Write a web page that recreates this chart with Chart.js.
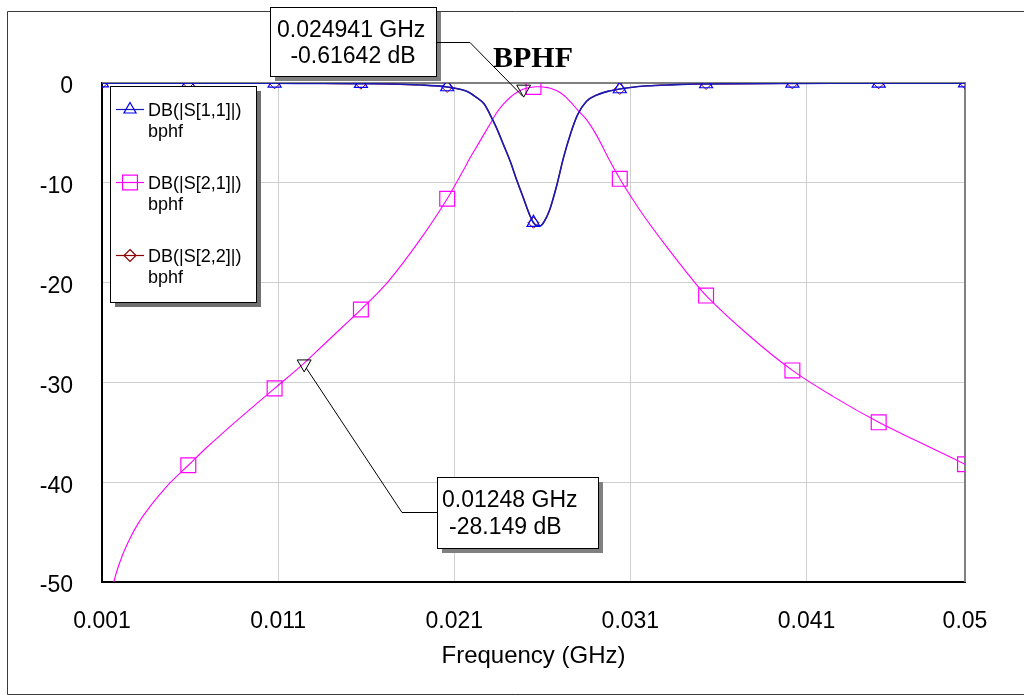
<!DOCTYPE html>
<html>
<head>
<meta charset="utf-8">
<script src="https://cdn.jsdelivr.net/npm/chart.js@4/dist/chart.umd.min.js"></script>
<style>
html,body{margin:0;padding:0;background:#fff;}
#wrap{width:1024px;height:696px;position:relative;}
</style>
</head>
<body>
<div id="wrap"><canvas id="c" width="1024" height="696"></canvas></div>
<script>
// ---- data ----
const freqGHz = [0.001,0.0013,0.0017,0.0021,0.0026,0.0031,0.0037,0.0043,0.0049,0.0059,0.0069,0.0079,0.0094,0.0108,
  0.0124,0.0136,0.0151,0.0157,0.0172,0.0191,0.0206,0.0215,0.0219,0.0223,
  0.0227,0.0231,0.0234,0.0238,0.0242,0.0245,0.0249,0.0253,0.0255,0.0257,0.0259,
  0.0261,0.0264,0.0268,0.0272,0.0276,0.0280,0.0285,0.0291,0.0298,0.0304,
  0.0310,0.0318,0.0331,0.0348,0.0353,0.0378,0.0402,0.0425,0.0451,0.0473,0.05];
const s11Db = [-0.01,-0.01,-0.01,-0.01,-0.01,-0.01,-0.01,-0.02,-0.02,-0.02,-0.02,-0.02,-0.03,-0.03,
  -0.04,-0.05,-0.06,-0.07,-0.1,-0.2,-0.4,-0.7,-1.0,-1.5,
  -2.1,-3.4,-4.5,-6.2,-7.95,-9.5,-11.4,-13.3,-14.0,-14.3,-14.3,
  -13.9,-12.8,-10.4,-7.5,-5.1,-3.2,-1.85,-1.2,-0.8,-0.6,
  -0.45,-0.3,-0.2,-0.1,-0.1,-0.06,-0.04,-0.03,-0.03,-0.02,-0.02];
const s21Db = [-57,-53.3,-49.8,-47.6,-45.6,-44.0,-42.5,-41.2,-40.0,-38.3,-36.6,-35.0,-32.7,-30.6,
  -28.2,-26.2,-23.7,-22.7,-20.0,-15.6,-11.6,-8.8,-7.5,-6.3,
  -5.1,-3.9,-3.0,-2.1,-1.4,-1.0,-0.62,-0.45,-0.4,-0.38,-0.37,
  -0.42,-0.5,-0.75,-1.2,-1.9,-2.7,-3.65,-5.3,-7.7,-9.6,
  -11.3,-13.4,-16.5,-20.3,-21.3,-25.4,-28.8,-31.4,-34.0,-35.9,-38.2];
const s22Db = [-0.01,-0.01,-0.01,-0.01,-0.01,-0.01,-0.01,-0.02,-0.02,-0.02,-0.02,-0.02,-0.03,-0.03,
  -0.04,-0.05,-0.06,-0.07,-0.1,-0.2,-0.4,-0.7,-1.0,-1.5,
  -2.1,-3.4,-4.5,-6.2,-7.95,-9.5,-11.4,-13.3,-14.0,-14.3,-14.3,
  -13.9,-12.8,-10.4,-7.5,-5.1,-3.2,-1.85,-1.2,-0.8,-0.6,
  -0.45,-0.3,-0.2,-0.1,-0.1,-0.06,-0.04,-0.03,-0.03,-0.02,-0.02];
const symbolFreqGHz = [0.001,0.0059,0.0108,0.0157,0.0206,0.0255,0.0304,0.0353,0.0402,0.0451,0.05];
const xTickValues = [0.001,0.011,0.021,0.031,0.041,0.05];
const xTickLabels = ['0.001','0.011','0.021','0.031','0.041','0.05'];
const yTickValues = [0,-10,-20,-30,-40,-50];
const yTickLabels = ['0','-10','-20','-30','-40','-50'];
const markerFreqGHz = [0.024941, 0.01248];
const markerDb = [-0.61642, -28.149];
const markerFreqText = ['0.024941 GHz', '0.01248 GHz'];
const markerDbText = [' -0.61642 dB', '-28.149 dB'];
const seriesNames = ['DB(|S[1,1]|)', 'DB(|S[2,1]|)', 'DB(|S[2,2]|)'];
const seriesSub = 'bphf';
const plotTitle = 'BPHF';
const xAxisTitle = 'Frequency (GHz)';

// ---- styling ----
const SANS = "'Liberation Sans', Arial, Helvetica, sans-serif";
const SERIF = "'Liberation Serif', 'Times New Roman', serif";
const colS11 = '#1a1ab4', mkS11 = '#0000ff';
const colS21 = '#ff00ff';
const colS22 = '#8b0000';

const isSymbol = x => symbolFreqGHz.some(f => Math.abs(f - x) < 1e-9);
const toPts = arr => freqGHz.map((f, i) => ({x: f, y: arr[i]}));

function shape(ctx, style, x, y, r) {
  ctx.beginPath();
  if (style === 'triangle') {
    ctx.moveTo(x, y - r);
    ctx.lineTo(x + r * 0.866, y + r / 2);
    ctx.lineTo(x - r * 0.866, y + r / 2);
    ctx.closePath();
  } else if (style === 'rect') {
    const s = r * Math.SQRT1_2;
    ctx.rect(x - s, y - s, 2 * s, 2 * s);
  } else if (style === 'rectRot') {
    ctx.moveTo(x, y - r); ctx.lineTo(x + r, y); ctx.lineTo(x, y + r); ctx.lineTo(x - r, y); ctx.closePath();
  }
  ctx.stroke();
}

const decor = {
  id: 'decor',
  beforeDraw(chart) {
    const ctx = chart.ctx;
    ctx.save();
    ctx.fillStyle = '#fff';
    ctx.fillRect(0, 0, chart.width, chart.height);
    ctx.lineWidth = 1;
    ctx.strokeStyle = '#3a3a3a';
    ctx.beginPath();
    ctx.moveTo(1024, 11.5); ctx.lineTo(7.5, 11.5); ctx.lineTo(7.5, 694.5); ctx.lineTo(1024, 694.5);
    ctx.stroke();
    ctx.restore();
  },
  beforeDatasetsDraw(chart) {
    const {ctx, chartArea: a} = chart;
    ctx.save();
    ctx.strokeStyle = '#808080';
    ctx.lineWidth = 2;
    ctx.beginPath();
    ctx.moveTo(a.left, a.top); ctx.lineTo(a.right, a.top); ctx.lineTo(a.right, a.bottom);
    ctx.stroke();
    ctx.restore();
  },
  afterDraw(chart) {
    const ctx = chart.ctx;
    const xs = chart.scales.x, ys = chart.scales.y;
    ctx.save();
    // legend box
    ctx.fillStyle = '#707070';
    ctx.fillRect(115, 91, 146, 216);
    ctx.fillStyle = '#fff';
    ctx.fillRect(110, 86, 146, 216);
    ctx.strokeStyle = '#000'; ctx.lineWidth = 1;
    ctx.strokeRect(110.5, 86.5, 146, 216);
    const lineY = [109, 182, 255];
    const cols = [colS11, colS21, colS22];
    const mks = [mkS11, colS21, colS22];
    const styles = ['triangle', 'rect', 'rectRot'];
    const radii = [7, 10.5, 6];
    ctx.font = '18px ' + SANS;
    ctx.textBaseline = 'alphabetic';
    ctx.textAlign = 'left';
    for (let i = 0; i < 3; i++) {
      ctx.strokeStyle = cols[i]; ctx.lineWidth = 1.2;
      ctx.beginPath(); ctx.moveTo(116, lineY[i] + 0.5); ctx.lineTo(144, lineY[i] + 0.5); ctx.stroke();
      ctx.strokeStyle = mks[i]; ctx.lineWidth = 1.2;
      shape(ctx, styles[i], 130, lineY[i] + 0.5, radii[i]);
      ctx.fillStyle = '#000';
      ctx.fillText(seriesNames[i], 148, lineY[i] + 7);
      ctx.fillText(seriesSub, 148, lineY[i] + 28);
    }
    // marker annotation boxes
    const boxes = [{x: 270, y: 7, w: 166, h: 69}, {x: 437, y: 477, w: 161, h: 71}];
    const tx = [[277, 284], [442, 449]];
    const tb = [[37, 63], [507, 534]];
    ctx.font = '23px ' + SANS;
    for (let i = 0; i < 2; i++) {
      const b = boxes[i];
      ctx.fillStyle = '#808080'; ctx.fillRect(b.x + 5, b.y + 5, b.w, b.h);
      ctx.fillStyle = '#fff'; ctx.fillRect(b.x, b.y, b.w, b.h);
      ctx.strokeStyle = '#000'; ctx.lineWidth = 1;
      ctx.strokeRect(b.x + 0.5, b.y + 0.5, b.w, b.h);
      ctx.fillStyle = '#000';
      ctx.fillText(markerFreqText[i], tx[i][0], tb[i][0]);
      ctx.fillText(markerDbText[i], tx[i][1], tb[i][1]);
    }
    // leader lines
    const p0x = xs.getPixelForValue(markerFreqGHz[0]), p0y = ys.getPixelForValue(markerDb[0]);
    const p1x = xs.getPixelForValue(markerFreqGHz[1]), p1y = ys.getPixelForValue(markerDb[1]);
    ctx.strokeStyle = '#000'; ctx.lineWidth = 1;
    ctx.beginPath();
    ctx.moveTo(436, 42.5); ctx.lineTo(470, 42.5); ctx.lineTo(p0x - 1, p0y + 7);
    ctx.stroke();
    ctx.beginPath();
    ctx.moveTo(p1x + 2, p1y + 4); ctx.lineTo(402, 512.5); ctx.lineTo(437, 512.5);
    ctx.stroke();
    // title
    ctx.font = 'bold 30px ' + SERIF;
    ctx.fillStyle = '#000';
    ctx.fillText(plotTitle, 493, 67);
    ctx.restore();
  }
};

const symR = (r) => (c) => (c.raw && isSymbol(c.raw.x)) ? r : 0;

new Chart(document.getElementById('c'), {
  type: 'line',
  data: {
    datasets: [
      {
        label: seriesNames[0], data: toPts(s11Db),
        borderColor: colS11, borderWidth: 1.6, backgroundColor: 'rgba(0,0,0,0)',
        pointStyle: 'triangle', pointRadius: symR(7.5), pointBorderColor: mkS11,
        pointBackgroundColor: 'rgba(0,0,0,0)', pointBorderWidth: 1.2,
        cubicInterpolationMode: 'monotone', clip: 0, order: 0
      },
      {
        label: seriesNames[1], data: toPts(s21Db),
        borderColor: colS21, borderWidth: 1.1, backgroundColor: 'rgba(0,0,0,0)',
        pointStyle: 'rect', pointRadius: symR(10.5), pointBorderColor: colS21,
        pointBackgroundColor: 'rgba(0,0,0,0)', pointBorderWidth: 1.2,
        cubicInterpolationMode: 'monotone', clip: 0, order: 1
      },
      {
        label: seriesNames[2], data: toPts(s22Db),
        borderColor: colS22, borderWidth: 1.2, backgroundColor: 'rgba(0,0,0,0)',
        pointStyle: 'rectRot', pointRadius: symR(5.5), pointBorderColor: colS22,
        pointBackgroundColor: 'rgba(0,0,0,0)', pointBorderWidth: 1,
        cubicInterpolationMode: 'monotone', clip: 0, order: 2
      },
      {
        label: 'markers', data: markerFreqGHz.map((f, i) => ({x: f, y: markerDb[i]})),
        showLine: false, pointStyle: 'triangle', rotation: 180, pointRadius: 8,
        pointBorderColor: '#000', pointBackgroundColor: 'rgba(0,0,0,0)', pointBorderWidth: 1,
        borderColor: '#000', clip: false, order: -1
      }
    ]
  },
  options: {
    responsive: false, animation: false, devicePixelRatio: 1,
    events: [],
    layout: {padding: {left: 0, top: 83, right: 59, bottom: 0}},
    plugins: {legend: {display: false}, tooltip: {enabled: false}, title: {display: false}},
    scales: {
      x: {
        type: 'linear', min: 0.001, max: 0.05,
        afterBuildTicks: s => { s.ticks = xTickValues.map(v => ({value: v})); },
        afterFit: s => { s.height = 114; },
        ticks: {
          callback: (v) => { const i = xTickValues.findIndex(t => Math.abs(t - v) < 1e-9); return i >= 0 ? xTickLabels[i] : ''; },
          font: {family: SANS, size: 23}, color: '#000', padding: 26, maxRotation: 0, autoSkip: false
        },
        grid: {
          drawTicks: false, lineWidth: 1,
          color: c => (c.tick && (Math.abs(c.tick.value - 0.001) < 1e-9 || Math.abs(c.tick.value - 0.05) < 1e-9)) ? 'rgba(0,0,0,0)' : '#cfcfcf'
        },
        border: {display: true, color: '#000', width: 2},
        title: {display: true, text: xAxisTitle, font: {family: SANS, size: 24}, color: '#000', padding: {top: 0, bottom: 25}}
      },
      y: {
        type: 'linear', min: -50, max: 0,
        afterBuildTicks: s => { s.ticks = yTickValues.map(v => ({value: v})); },
        afterFit: s => { s.width = 102; },
        ticks: {
          callback: (v) => { const i = yTickValues.indexOf(v); return i >= 0 ? yTickLabels[i] : ''; },
          font: {family: SANS, size: 23}, color: '#000', padding: 29, labelOffset: 4
        },
        grid: {
          drawTicks: false, lineWidth: 1,
          color: c => (c.tick && (c.tick.value === 0 || c.tick.value === -50)) ? 'rgba(0,0,0,0)' : '#cfcfcf'
        },
        border: {display: true, color: '#000', width: 2}
      }
    }
  },
  plugins: [decor]
});
</script>
</body>
</html>
